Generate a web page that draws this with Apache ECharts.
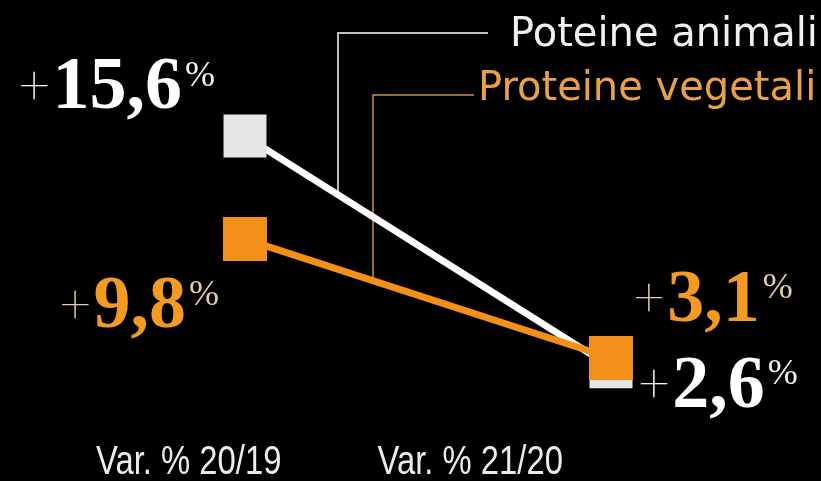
<!DOCTYPE html>
<html>
<head>
<meta charset="utf-8">
<script src="https://cdn.jsdelivr.net/npm/echarts@6/dist/echarts.min.js"></script>
<style>
  html, body { margin: 0; padding: 0; background: #000; }
  #chart { width: 821px; height: 481px; }
</style>
</head>
<body>
<div id="chart"></div>
<script>
// Two-period percentage change of animal vs plant protein
const categories = ['Var. % 20/19', 'Var. % 21/20'];
const seriesNames = ['Poteine animali', 'Proteine vegetali'];
const animali = [15.6, 2.6];
const vegetali = [9.8, 3.1];

const WHITE = '#ffffff';
const WHITE_MARK = '#e6e6e6';
const ORANGE = '#f39019';
const ORANGE_TEXT = '#f29a22';
const ORANGE_SOFT = '#e2cba8';

const fmt = v => v.toFixed(1).replace('.', ',');

function richFor(color, soft) {
  return {
    p: { fontFamily: 'Roboto, "DejaVu Sans", sans-serif', fontWeight: 100, fontSize: 54, lineHeight: 74, color: soft, padding: [0, 3, 0, 0] },
    n: { fontFamily: 'Liberation Serif', fontWeight: 'bold', fontSize: 74, lineHeight: 74, color: color },
    s: { fontFamily: 'Liberation Serif', fontSize: 36, lineHeight: 40, verticalAlign: 'top', color: soft, padding: [6, 0, 0, 3] }
  };
}

function labelFmt(p) {
  return '{p|+}{n|' + fmt(p.value) + '}{s|%}';
}

// label placement per point: [align, dx, dy]
const animaliPlace = [['right', -30, -47], ['left', 28, 21]];
const vegetaliPlace = [['right', -26, 69], ['left', 23, -56]];

function buildData(values, place, color, soft) {
  return values.map((v, i) => ({
    value: v,
    label: {
      show: true,
      position: 'inside',
      align: place[i][0],
      verticalAlign: 'middle',
      offset: [place[i][1], place[i][2]],
      formatter: labelFmt,
      rich: richFor(color, soft)
    }
  }));
}

const chart = echarts.init(document.getElementById('chart'), null, { renderer: 'canvas' });

const option = {
  backgroundColor: '#000',
  animation: false,
  grid: [
    { left: 62, right: 27, top: 58, bottom: 68 },
    { left: 48, right: 210, top: 0, bottom: 44 }
  ],
  xAxis: [
    {
      type: 'category', gridIndex: 0, data: categories, boundaryGap: true,
      axisLine: { show: false }, axisTick: { show: false }, axisLabel: { show: false }, splitLine: { show: false }
    },
    {
      // carries the period names; drawn below as narrowed text
      type: 'category', gridIndex: 1, data: categories, boundaryGap: true,
      axisLine: { show: false }, axisTick: { show: false }, splitLine: { show: false },
      axisLabel: { show: false }
    }
  ],
  yAxis: [
    { type: 'value', gridIndex: 0, min: 0, max: 20, show: false },
    { type: 'value', gridIndex: 1, min: 0, max: 1, show: false }
  ],
  series: [
    {
      name: seriesNames[0], type: 'line', xAxisIndex: 0, yAxisIndex: 0,
      data: buildData(animali, animaliPlace, WHITE, '#f2f2f2'),
      symbol: 'rect', symbolSize: 43,
      itemStyle: { color: WHITE_MARK },
      lineStyle: { color: WHITE, width: 7 },
      z: 2
    },
    {
      name: seriesNames[1], type: 'line', xAxisIndex: 0, yAxisIndex: 0,
      data: buildData(vegetali, vegetaliPlace, ORANGE_TEXT, ORANGE_SOFT),
      symbol: 'rect', symbolSize: 44,
      itemStyle: { color: ORANGE },
      lineStyle: { color: ORANGE, width: 7 },
      z: 3
    }
  ]
};

chart.setOption(option);

// Leader lines from the series names down onto each line
function yOnLine(values, x) {
  const a = chart.convertToPixel({ seriesIndex: 0 }, [0, values[0]]);
  const b = chart.convertToPixel({ seriesIndex: 0 }, [1, values[1]]);
  const t = (x - a[0]) / (b[0] - a[0]);
  return a[1] + t * (b[1] - a[1]);
}

const catTexts = categories.map(c => ({
  type: 'text', z: 5,
  x: chart.convertToPixel({ xAxisIndex: 1 }, c),
  y: 463,
  scaleX: 0.8,
  style: {
    text: c, fill: '#ececec', font: '41px "Liberation Sans", Arial, sans-serif',
    textAlign: 'center', textVerticalAlign: 'middle'
  }
}));

const wx = 338, wy = 33, ox = 373, oy = 95;
chart.setOption({
  graphic: [
    {
      type: 'polyline', z: 1,
      shape: { points: [[488, wy], [wx, wy], [wx, yOnLine(animali, wx)]] },
      style: { stroke: '#bdbdbd', lineWidth: 2, fill: null }
    },
    {
      type: 'polyline', z: 1,
      shape: { points: [[474, oy], [ox, oy], [ox, yOnLine(vegetali, ox)]] },
      style: { stroke: '#c99146', lineWidth: 1.5, fill: null }
    },
    {
      type: 'text', x: 510, y: 36, z: 5,
      style: { text: seriesNames[0], fill: '#f0f0f0', font: '40px "DejaVu Sans", sans-serif', textVerticalAlign: 'middle' }
    },
    {
      type: 'text', x: 478, y: 90, z: 5,
      style: { text: seriesNames[1], fill: '#eaa048', font: '40px "DejaVu Sans", sans-serif', textVerticalAlign: 'middle' }
    }
  ].concat(catTexts)
});
</script>
</body>
</html>
